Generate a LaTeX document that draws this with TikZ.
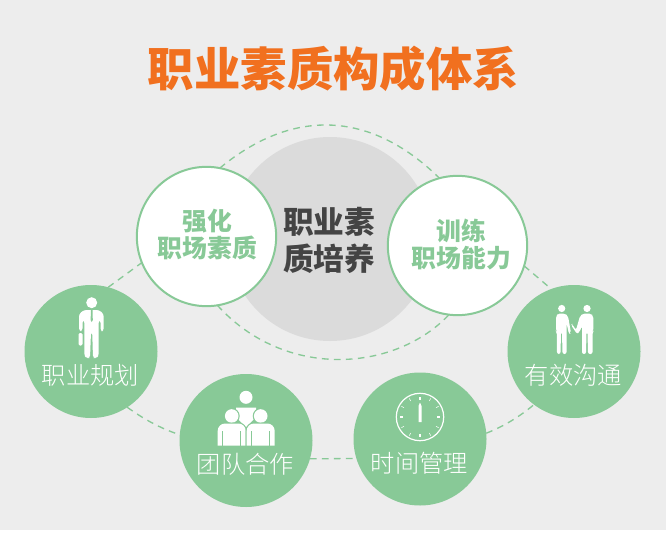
\documentclass[tikz,border=0pt]{standalone}
\usepackage{fontspec}
\setmainfont{Noto Sans CJK SC}
\newfontfamily\thincjk{Noto Sans CJK SC Light}
\usepackage{tikz}
\definecolor{paper}{HTML}{EDEDED}
\definecolor{leaf}{HTML}{88C997}
\definecolor{tang}{HTML}{F1701F}
\definecolor{disc}{HTML}{DBDBDB}
\definecolor{ink}{HTML}{444444}
\tikzset{
  ball/.style={circle,fill=leaf,minimum size=99.75pt,inner sep=0,outer sep=0},
  whiteball/.style={circle,draw=leaf,line width=1.5pt,fill=white,minimum size=104.5pt,inner sep=0,outer sep=0},
  balltext/.style={text=white,font=\thincjk\fontsize{18.2}{20}\selectfont},
  whitetext/.style={text=leaf,align=center,font=\fontsize{18.6}{20}\selectfont\bfseries},
  link/.style={draw=leaf,line width=1pt,dash pattern=on 5pt off 4pt}
}
\begin{document}
\begin{tikzpicture}[x=.75pt,y=-.75pt]
\useasboundingbox (0,0) rectangle (667,535);
\fill[paper] (0,0) rectangle (666,530);
\node[circle,fill=disc,minimum size=153pt,inner sep=0,outer sep=0] (core) at (330,239) {};
\node[text=ink,align=center,font=\fontsize{23}{27.75}\selectfont\bfseries] (coretext) at (329,240) {职业素\\质培养};
\node[text=tang,font=\fontsize{34.8}{40}\selectfont\bfseries] (title) at (333.5,68.5) {职业素质构成体系};
% big circles
\foreach \name/\x/\y/\txt in {plan/91/351.5/职业规划,team/246/440.5/团队合作,clock/420/439/时间管理,talk/574/351.5/有效沟通}{
\node[ball] (\name) at (\x,\y) {};
\node[balltext] (\name text) at (\x-.5,\y+24) {\txt};
}
\node[whiteball] (skill) at (206.5,236.5) {};
\node[whitetext] (skill text) at (207.5,234.5) {强化\\职场素质};
\node[whiteball] (train) at (457.5,245.5) {};
\node[whitetext] (train text) at (461.5,244.5) {训练\\职场能力};
% dashed links
\draw[link] (skill.79) .. controls (290,110) and (368,108) .. (train.105);
\draw[link] (skill.-81) .. controls (285,380) and (395,372) .. (train.-97);
\draw[link] (plan.75) -- (skill.202);
\draw[link] (plan.-57) .. controls (145,420) and (162,429) .. (team.175);
\draw[link] (team.-16) -- (clock.197);
\draw[link] (clock.5) .. controls (502,427) and (518,418) .. (talk.233);
\draw[link] (train.-17) -- (talk.110);
% man with case
\begin{scope}[white]
\fill (91.7,302.7) circle (5.5);
\fill[rounded corners=2] (79,331) -- (79,314) -- (84,310) -- (99,310) -- (103.7,314) -- (103.7,331) -- (100.5,331) -- (100.5,320) -- (98.7,320) -- (98.7,356) -- (96,358) -- (93,358) -- (92.2,332) -- (91,332) -- (90,358) -- (87,358) -- (84.3,356) -- (84.3,320) -- (82.5,320) -- (82.5,331) -- cycle;
\fill[rounded corners=1] (78.5,333) rectangle (82.5,345.5);
\fill[leaf] (91,310) -- (92.5,310) -- (92.8,320) -- (91.7,322) -- (90.6,320) -- cycle;
% team
\fill (246,397.3) circle (6.5);
\fill (236,407.5) -- (256,407.5) -- (256,417) -- (246,427) -- (236,417) -- cycle;
\foreach \cx in {231.7,260.7}{
\fill[leaf] (\cx,416) circle (8);
\fill (\cx,416) circle (6.8);
\fill[leaf] (\cx-15,446) [rounded corners=6] -- (\cx-15,422.5) -- (\cx+15,422.5) [sharp corners] -- (\cx+15,446) -- cycle;
\fill (\cx-14,445.7) [rounded corners=5.5] -- (\cx-14,423.5) -- (\cx+14,423.5) [sharp corners] -- (\cx+14,445.7) -- cycle;
\fill[leaf] (\cx-9.5,431) rectangle (\cx-8.5,445.7);
\fill[leaf] (\cx+8.5,431) rectangle (\cx+9.5,445.7);
}
% dial
\draw[line width=.9pt] (420,417) circle (23.7);
\foreach \a in {30,60,120,150,210,240,300,330}{
\draw[line width=.4pt] (420,417) ++(\a:18.5) -- ++(\a:3);
}
\foreach \a in {0,90,180,270}{
\fill (420,417) ++(\a:18.5) ++(-1.3,-1.3) rectangle ++(2.6,2.6);
}
\fill (418.5,422) -- (418.5,406) -- (420,402.5) -- (421.5,406) -- (421.5,422) -- cycle;
% two people
\fill (561.7,308.5) circle (3.6);
\fill (587,308.5) circle (3.6);
\fill[rounded corners=1.5] (556,316) -- (558,313.5) -- (565,313.5) -- (568,316) -- (571,333) -- (569,334) -- (566.5,323) -- (566.5,354) -- (562.5,354) -- (562,332) -- (561,332) -- (560.5,354) -- (557,354) -- (556.8,332) -- (556,331) -- cycle;
\fill[rounded corners=1.5] (593.3,316) -- (591,313.5) -- (583,313.5) -- (580,316) -- (576,330) -- (572,324) -- (571,325) -- (577,334) -- (579.5,332) -- (582,326) -- (582,354) -- (586,354) -- (586.5,332) -- (587.5,332) -- (588,354) -- (592.5,354) -- (592.5,332) -- (593.3,331) -- cycle;
\end{scope}
\end{tikzpicture}
\end{document}
